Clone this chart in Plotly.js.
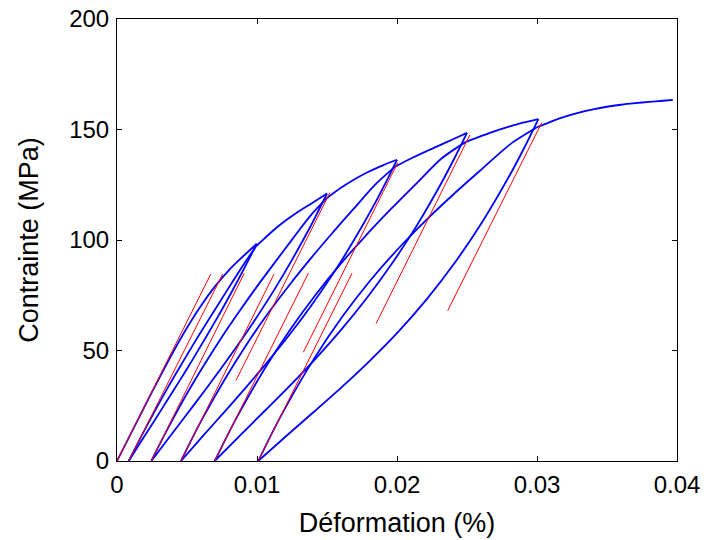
<!DOCTYPE html>
<html>
<head>
<meta charset="utf-8">
<script src="https://cdn.plot.ly/plotly-3.0.1.min.js"></script>
<style>html,body{margin:0;padding:0;background:#fff;}#chart{width:704px;height:540px;}</style>
</head>
<body>
<div id="chart"></div>
<script>
// ---- data (strain %, stress MPa) ----
var env0X = [0, 0.001, 0.002, 0.003, 0.004, 0.005, 0.006, 0.007, 0.008, 0.009, 0.00998];
var env0Y = [0, 12.5, 25.0, 37.3, 49.2, 60.3, 70.3, 79.0, 86.4, 92.6, 98.3];

var unload1X = [0.00998, 0.00952, 0.00907, 0.00815, 0.00724, 0.00632, 0.00541, 0.00450, 0.00358, 0.00267, 0.00175, 0.00084];
var unload1Y = [98.3, 92.53, 86.90, 76.04, 65.65, 55.67, 45.99, 36.59, 27.35, 18.22, 9.13, 0];
var reload1X = [0.00084, 0.00130, 0.00175, 0.00267, 0.00358, 0.00450, 0.00541, 0.00632, 0.00724, 0.00815, 0.00907, 0.00995];
var reload1Y = [0, 5.77, 11.40, 22.26, 32.65, 42.63, 52.31, 61.71, 70.95, 80.08, 89.17, 97.3];
var env1X = [0.00995, 0.0105, 0.0110, 0.0115, 0.0120, 0.0125, 0.0130, 0.0135, 0.0140, 0.0145, 0.0150];
var env1Y = [97.3, 100.5, 103.4, 106.1, 108.6, 110.9, 113.0, 115.0, 117.0, 119.0, 121.0];

var unload2X = [0.0150, 0.01437, 0.01375, 0.01249, 0.01124, 0.00998, 0.00873, 0.00747, 0.00622, 0.00496, 0.00371, 0.00245];
var unload2Y = [121.0, 113.0, 105.33, 90.91, 77.54, 65.07, 53.35, 42.20, 31.45, 20.95, 10.51, 0];
var reload2X = [0.00245, 0.00308, 0.00371, 0.00496, 0.00622, 0.00747, 0.00873, 0.00998, 0.01124, 0.01249, 0.01375, 0.01498];
var reload2Y = [0, 8.00, 15.67, 30.09, 43.46, 55.93, 67.65, 78.80, 89.55, 100.05, 110.49, 118.9];
var env2X = [0.01498, 0.0160, 0.0170, 0.0180, 0.0190, 0.0200];
var env2Y = [118.9, 123.6, 127.6, 131.0, 133.8, 136.3];

var unload3X = [0.0200, 0.01923, 0.01846, 0.01691, 0.01537, 0.01383, 0.01229, 0.01074, 0.00920, 0.00766, 0.00611, 0.00457];
var unload3Y = [136.3, 126.42, 117.04, 99.74, 84.11, 69.92, 56.88, 44.75, 33.24, 22.13, 11.14, 0];
var reload3X = [0.00457, 0.00534, 0.00611, 0.00766, 0.00920, 0.01074, 0.01229, 0.01383, 0.01537, 0.01691, 0.01846, 0.01986];
var reload3Y = [0, 9.88, 19.26, 36.56, 52.19, 66.38, 79.42, 91.55, 103.06, 114.16, 125.16, 133.2];
var env3X = [0.01986, 0.0210, 0.0220, 0.0230, 0.0240, 0.0250];
var env3Y = [133.2, 136.9, 139.9, 142.7, 145.6, 148.5];

var unload4X = [0.0250, 0.02410, 0.02320, 0.02140, 0.01959, 0.01779, 0.01599, 0.01419, 0.01239, 0.01058, 0.00878, 0.00698];
var unload4Y = [148.5, 136.98, 126.15, 106.40, 88.88, 73.27, 59.21, 46.36, 34.35, 22.85, 11.52, 0];
var reload4X = [0.00698, 0.00788, 0.00878, 0.01058, 0.01239, 0.01419, 0.01599, 0.01779, 0.01959, 0.02140, 0.02320, 0.02492];
var reload4Y = [0, 11.52, 22.35, 42.10, 59.62, 75.23, 89.29, 102.14, 114.15, 125.65, 136.98, 144.4];
var env4X = [0.02492, 0.0260, 0.0270, 0.0280, 0.0290, 0.0301];
var env4Y = [144.4, 147.0, 149.3, 151.3, 153.1, 154.7];

var unload5X = [0.0301, 0.02910, 0.02810, 0.02610, 0.02410, 0.02210, 0.02010, 0.01809, 0.01609, 0.01409, 0.01209, 0.01009];
var unload5Y = [154.7, 141.84, 129.85, 108.26, 89.45, 73.03, 58.55, 45.57, 33.66, 22.39, 11.31, 0];
var reload5X = [0.01009, 0.01109, 0.01209, 0.01409, 0.01609, 0.01809, 0.02010, 0.02210, 0.02410, 0.02610, 0.02810, 0.03000];
var reload5Y = [0, 12.86, 24.84, 46.44, 65.25, 81.67, 96.15, 109.12, 121.04, 132.31, 143.39, 151.0];
var env5X = [0.0300, 0.0310, 0.0320, 0.0330, 0.0340, 0.0350, 0.0360, 0.0370, 0.0380, 0.0390, 0.0397];
var env5Y = [151.0, 153.6, 155.8, 157.6, 159.1, 160.3, 161.2, 161.9, 162.5, 163.0, 163.4];

// red elastic-slope lines: start / end points
var tangentStartX = [0, 0.00084, 0.00245, 0.00457, 0.00698, 0.01009, 0.01521, 0.02005, 0.02521, 0.03034];
var tangentStartY = [0, 0, 0, 0, 0, 0, 121.5, 135.0, 147.6, 153.1];
var tangentEndX = [0.0067, 0.00755, 0.00909, 0.01121, 0.01367, 0.01679, 0.0085, 0.01331, 0.0185, 0.02362];
var tangentEndY = [84.6, 84.6, 85.0, 84.5, 85.0, 85.0, 36.5, 49.2, 62.1, 68.0];

var xTicks = [0, 0.01, 0.02, 0.03, 0.04];
var xTickText = ['0', '0.01', '0.02', '0.03', '0.04'];
var yTicks = [0, 50, 100, 150, 200];
var yTickText = ['0', '50', '100', '150', '200'];

// ---- traces ----
var blueCurves = [
  [env0X, env0Y], [unload1X, unload1Y], [reload1X, reload1Y], [env1X, env1Y],
  [unload2X, unload2Y], [reload2X, reload2Y], [env2X, env2Y],
  [unload3X, unload3Y], [reload3X, reload3Y], [env3X, env3Y],
  [unload4X, unload4Y], [reload4X, reload4Y], [env4X, env4Y],
  [unload5X, unload5Y], [reload5X, reload5Y], [env5X, env5Y]
];
var traces = [];
blueCurves.forEach(function (c) {
  traces.push({
    x: c[0], y: c[1], type: 'scatter', mode: 'lines', hoverinfo: 'skip',
    line: {color: '#0000ff', width: 1.8, shape: 'spline', smoothing: 0.8}
  });
});
for (var i = 0; i < tangentStartX.length; i++) {
  traces.push({
    x: [tangentStartX[i], tangentEndX[i]], y: [tangentStartY[i], tangentEndY[i]],
    type: 'scatter', mode: 'lines', hoverinfo: 'skip',
    line: {color: '#ff0000', width: 1}
  });
}

var fontFam = '"Liberation Sans", Arial, Helvetica, sans-serif';
var layout = {
  width: 704, height: 540,
  margin: {l: 117, r: 27, t: 19, b: 79, pad: 0},
  paper_bgcolor: '#ffffff', plot_bgcolor: '#ffffff',
  showlegend: false,
  font: {family: fontFam, color: '#000000', size: 24},
  xaxis: {
    range: [0, 0.04], tickvals: xTicks, ticktext: xTickText,
    showline: true, linecolor: '#000000', linewidth: 1, mirror: 'ticks',
    ticks: 'inside', ticklen: 5, tickwidth: 1, tickcolor: '#000000',
    ticklabelstandoff: 2,
    showgrid: false, zeroline: false,
    tickfont: {family: fontFam, size: 24, color: '#000000'},
    title: {text: 'Déformation (%)', font: {family: fontFam, size: 27, color: '#000000'}, standoff: 16}
  },
  yaxis: {
    range: [0, 200], tickvals: yTicks, ticktext: yTickText,
    showline: true, linecolor: '#000000', linewidth: 1, mirror: 'ticks',
    ticks: 'inside', ticklen: 5, tickwidth: 1, tickcolor: '#000000',
    ticklabelstandoff: 2,
    showgrid: false, zeroline: false,
    tickfont: {family: fontFam, size: 24, color: '#000000'},
    title: {text: 'Contrainte (MPa)', font: {family: fontFam, size: 27, color: '#000000'}, standoff: 22}
  }
};
Plotly.newPlot('chart', traces, layout, {displayModeBar: false, staticPlot: true});
</script>
</body>
</html>
